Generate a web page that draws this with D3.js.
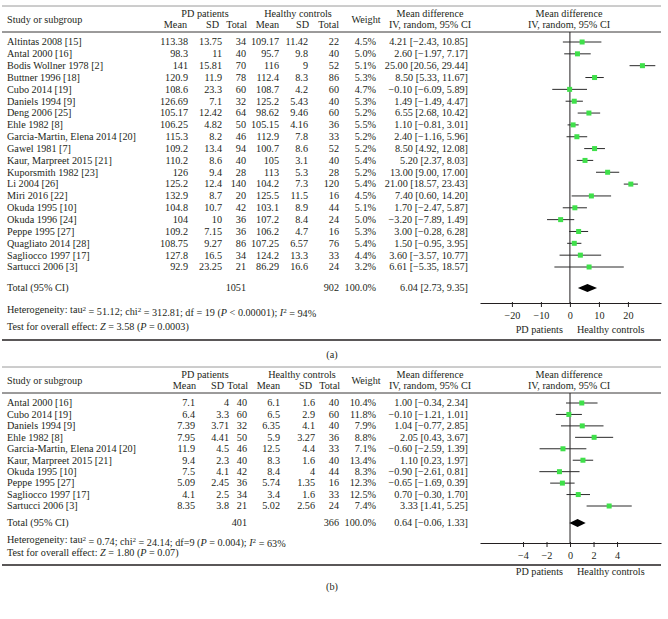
<!DOCTYPE html>
<html><head><meta charset="utf-8">
<script src="https://cdn.jsdelivr.net/npm/d3@7"></script>
<style>
body{margin:0;background:#fff;}
text{font-family:"Liberation Serif","Times New Roman",serif;font-size:10.2px;fill:#231f20;}
</style></head>
<body><svg id="c" width="668" height="619"></svg>
<script>
// ---------- Panel (a) data ----------
const studiesA = ["Altintas 2008 [15]","Antal 2000 [16]","Bodis Wollner 1978 [2]","Buttner 1996 [18]","Cubo 2014 [19]","Daniels 1994 [9]","Deng 2006 [25]","Ehle 1982 [8]","Garcia-Martin, Elena 2014 [20]","Gawel 1981 [7]","Kaur, Marpreet 2015 [21]","Kuporsmith 1982 [23]","Li 2004 [26]","Miri 2016 [22]","Okuda 1995 [10]","Okuda 1996 [24]","Peppe 1995 [27]","Quagliato 2014 [28]","Sagliocco 1997 [17]","Sartucci 2006 [3]"];
const pdMeanA = [113.38,98.3,141,120.9,108.6,126.69,105.17,106.25,115.3,109.2,110.2,126,125.2,132.9,104.8,104,109.2,108.75,127.8,92.9];
const pdSdA   = [13.75,11,15.81,11.9,23.3,7.1,12.42,4.82,8.2,13.4,8.6,9.4,12.4,8.7,10.7,10,7.15,9.27,16.5,23.25];
const pdNA    = [34,40,70,78,60,32,64,50,46,94,40,28,140,20,42,36,36,86,34,21];
const hcMeanA = [109.17,95.7,116,112.4,108.7,125.2,98.62,105.15,112.9,100.7,105,113,104.2,125.5,103.1,107.2,106.2,107.25,124.2,86.29];
const hcSdA   = [11.42,9.8,9,8.3,4.2,5.43,9.46,4.16,7.8,8.6,3.1,5.3,7.3,11.5,8.9,8.4,4.7,6.57,13.3,16.6];
const hcNA    = [22,40,52,86,60,40,60,36,33,52,40,28,120,16,44,24,16,76,33,24];
const weightA = [4.5,5.0,5.1,5.3,4.7,5.3,5.2,5.5,5.2,5.2,5.4,5.2,5.4,4.5,5.1,5.0,5.3,5.4,4.4,3.2];
const mdA     = [4.21,2.60,25.00,8.50,-0.10,1.49,6.55,1.10,2.40,8.50,5.20,13.00,21.00,7.40,1.70,-3.20,3.00,1.50,3.60,6.61];
const loA     = [-2.43,-1.97,20.56,5.33,-6.09,-1.49,2.68,-0.81,-1.16,4.92,2.37,9.00,18.57,0.60,-2.47,-7.89,-0.28,-0.95,-3.57,-5.35];
const hiA     = [10.85,7.17,29.44,11.67,5.89,4.47,10.42,3.01,5.96,12.08,8.03,17.00,23.43,14.20,5.87,1.49,6.28,3.95,10.77,18.57];
const totalA  = {pdN:1051, hcN:902, weight:100.0, md:6.04, lo:2.73, hi:9.35};
const ticksA  = [-20,-10,0,10,20];
const hetA    = {tau:"51.12", chi:"312.81", df:"df = 19", p:"< 0.00001", i2:"94%"};
const testA   = {z:"3.58", p:"0.0003"};

// ---------- Panel (b) data ----------
const studiesB = ["Antal 2000 [16]","Cubo 2014 [19]","Daniels 1994 [9]","Ehle 1982 [8]","Garcia-Martin, Elena 2014 [20]","Kaur, Marpreet 2015 [21]","Okuda 1995 [10]","Peppe 1995 [27]","Sagliocco 1997 [17]","Sartucci 2006 [3]"];
const pdMeanB = [7.1,6.4,7.39,7.95,11.9,9.4,7.5,5.09,4.1,8.35];
const pdSdB   = [4,3.3,3.71,4.41,4.5,2.3,4.1,2.45,2.5,3.8];
const pdNB    = [40,60,32,50,46,40,42,36,34,21];
const hcMeanB = [6.1,6.5,6.35,5.9,12.5,8.3,8.4,5.74,3.4,5.02];
const hcSdB   = [1.6,2.9,4.1,3.27,4.4,1.6,4,1.35,1.6,2.56];
const hcNB    = [40,60,40,36,33,40,44,16,33,24];
const weightB = [10.4,11.8,7.9,8.8,7.1,13.4,8.3,12.3,12.5,7.4];
const mdB     = [1.00,-0.10,1.04,2.05,-0.60,1.10,-0.90,-0.65,0.70,3.33];
const loB     = [-0.34,-1.21,-0.77,0.43,-2.59,0.23,-2.61,-1.69,-0.30,1.41];
const hiB     = [2.34,1.01,2.85,3.67,1.39,1.97,0.81,0.39,1.70,5.25];
const totalB  = {pdN:401, hcN:366, weight:100.0, md:0.64, lo:-0.06, hi:1.33};
const ticksB  = [-4,-2,0,2,4];
const hetB    = {tau:"0.74", chi:"24.14", df:"df=9", p:"= 0.004", i2:"63%"};
const testB   = {z:"1.80", p:"0.07"};

const svg = d3.select("#c");
const minus = s => String(s).replace("-", "\u2212");
const f2 = v => minus(v.toFixed(2));
const ciText = (m,l,h) => `${f2(m)} [${f2(l)}, ${f2(h)}]`;

function panel(o){
  const g = svg.append("g");
  const n = o.studies.length;
  const y = d3.scaleLinear().domain([0, n-1]).range([o.row0, o.row1]);
  const x = d3.scaleLinear().domain(o.xdom).range([480, 661]);
  const T = (tx, ty, s, anchor) => g.append("text").attr("x", tx).attr("y", ty)
      .attr("dy", "0.33em").attr("text-anchor", anchor || "start").text(s);

  // rules
  g.append("line").attr("x1",2).attr("x2",661).attr("y1",o.top).attr("y2",o.top).attr("stroke","#9a9a9a").attr("stroke-width",1);
  g.append("line").attr("x1",2).attr("x2",661).attr("y1",o.hline).attr("y2",o.hline).attr("stroke","#231f20").attr("stroke-width",0.9);
  g.append("line").attr("x1",2).attr("x2",661).attr("y1",o.bottom).attr("y2",o.bottom).attr("stroke","#231f20").attr("stroke-width",1.4);

  // headers
  const c = o.cols, hc = o.hcols;
  T(7, o.h1 + (o.h2-o.h1)/2, "Study or subgroup");
  T(c.pdC, o.h1, "PD patients", "middle");
  T(c.hcC, o.h1, "Healthy controls", "middle");
  T(hc.pdMean, o.h2, "Mean", "end"); T(hc.pdSd, o.h2, "SD", "end"); T(hc.pdN, o.h2, "Total", "end");
  T(hc.hcMean, o.h2, "Mean", "end"); T(hc.hcSd, o.h2, "SD", "end"); T(hc.hcN, o.h2, "Total", "end");
  T(366, o.h1 + (o.h2-o.h1)/2, "Weight", "middle");
  T(430, o.h1, "Mean difference", "middle");
  T(430, o.h2, "IV, random, 95% CI", "middle");
  T(569, o.h1, "Mean difference", "middle");
  T(569, o.h2, "IV, random, 95% CI", "middle");

  // rows
  o.studies.forEach((s,i)=>{
    const yy = y(i);
    T(7, yy, s);
    T(c.pdMean, yy, o.pdMean[i], "end");
    T(c.pdSd, yy, o.pdSd[i], "end");
    T(c.pdN, yy, o.pdN[i], "end");
    T(c.hcMean, yy, o.hcMean[i], "end");
    T(c.hcSd, yy, o.hcSd[i], "end");
    T(c.hcN, yy, o.hcN[i], "end");
    T(376, yy, o.weight[i].toFixed(1)+"%", "end");
    T(468, yy, ciText(o.md[i], o.lo[i], o.hi[i]), "end");
  });

  // total
  const t = o.total;
  T(7, o.totY, "Total (95% CI)");
  T(c.pdN, o.totY, t.pdN, "end");
  T(c.hcN, o.totY, t.hcN, "end");
  T(376, o.totY, t.weight.toFixed(1)+"%", "end");
  T(468, o.totY, ciText(t.md, t.lo, t.hi), "end");

  // heterogeneity
  const h = g.append("text").attr("x",7).attr("y",o.hetY).attr("dy","0.33em");
  h.append("tspan").text("Heterogeneity: tau");
  h.append("tspan").attr("dy","-0.4em").style("font-size","7px").text("2");
  h.append("tspan").attr("dy","0.4em").text(` = ${o.het.tau}; chi`);
  h.append("tspan").attr("dy","-0.4em").style("font-size","7px").text("2");
  h.append("tspan").attr("dy","0.4em").text(` = ${o.het.chi}; ${o.het.df} (`);
  h.append("tspan").style("font-style","italic").text("P");
  h.append("tspan").text(` ${o.het.p}); `);
  h.append("tspan").style("font-style","italic").text("I");
  h.append("tspan").attr("dy","-0.4em").style("font-size","7px").text("2");
  h.append("tspan").attr("dy","0.4em").text(` = ${o.het.i2}`);

  const te = g.append("text").attr("x",7).attr("y",o.testY).attr("dy","0.33em");
  te.append("tspan").text("Test for overall effect: ");
  te.append("tspan").style("font-style","italic").text("Z");
  te.append("tspan").text(` = ${o.test.z} (`);
  te.append("tspan").style("font-style","italic").text("P");
  te.append("tspan").text(` = ${o.test.p})`);

  // plot: zero line
  g.append("line").attr("x1",x(0)).attr("x2",x(0)).attr("y1",o.hline).attr("y2",o.axisY)
    .attr("stroke","#231f20").attr("stroke-width",1);

  // CIs and squares
  o.studies.forEach((s,i)=>{
    const yy = y(i);
    g.append("line").attr("x1",x(o.lo[i])).attr("x2",x(o.hi[i])).attr("y1",yy).attr("y2",yy)
      .attr("stroke","#2a2a2a").attr("stroke-width",1);
    g.append("rect").attr("x",x(o.md[i])-2.5).attr("y",yy-2.5).attr("width",5).attr("height",5)
      .attr("fill","#3fe04a");
  });
  // diamond
  g.append("polygon").attr("points",
    [[x(t.lo),o.totY],[x(t.md),o.totY-4],[x(t.hi),o.totY],[x(t.md),o.totY+4]].map(p=>p.join(",")).join(" "))
    .attr("fill","#000");

  // axis
  const ax = g.append("g").attr("transform",`translate(0,${o.axisY})`)
    .call(d3.axisBottom(x).tickValues(o.ticks).tickSizeOuter(0).tickSizeInner(4).tickPadding(5)
      .tickFormat(d=>minus(d)));
  ax.select(".domain").attr("stroke","#231f20");
  ax.selectAll(".tick line").attr("stroke","#231f20").attr("y1",-1);
  ax.selectAll(".tick text").style("font-family",'"Liberation Serif",serif').style("font-size","10.2px").attr("fill","#231f20");

  T(x(0)-7, o.grpY, "PD patients", "end");
  T(x(0)+7, o.grpY, "Healthy controls", "start");

  T(332, o.labY, o.label, "middle");
}

panel({studies:studiesA, pdMean:pdMeanA, pdSd:pdSdA, pdN:pdNA, hcMean:hcMeanA, hcSd:hcSdA, hcN:hcNA,
  weight:weightA, md:mdA, lo:loA, hi:hiA, total:totalA, ticks:ticksA, het:hetA, test:testA,
  xdom:[-31, 31.4], top:6, h1:14, h2:25, hline:32, row0:42, row1:267, totY:288, hetY:310, testY:327,
  bottom:340, axisY:303, grpY:330, labY:355, label:"(a)",
  cols:{pdC:205, hcC:298, pdMean:188, pdSd:222, pdN:246, hcMean:279, hcSd:308, hcN:339},
  hcols:{pdMean:187, pdSd:219, pdN:247, hcMean:279, hcSd:309, hcN:339}});

panel({studies:studiesB, pdMean:pdMeanB, pdSd:pdSdB, pdN:pdNB, hcMean:hcMeanB, hcSd:hcSdB, hcN:hcNB,
  weight:weightB, md:mdB, lo:loB, hi:hiB, total:totalB, ticks:ticksB, het:hetB, test:testB,
  xdom:[-7.66, 7.74], top:367, h1:375, h2:386, hline:393, row0:403, row1:506, totY:523, hetY:540, testY:553,
  bottom:565, axisY:543, grpY:572, labY:587, label:"(b)",
  cols:{pdC:205, hcC:302, pdMean:195, pdSd:229, pdN:247, hcMean:280, hcSd:315, hcN:339},
  hcols:{pdMean:196, pdSd:224, pdN:248, hcMean:280, hcSd:312, hcN:340}});
</script>
</body></html>
